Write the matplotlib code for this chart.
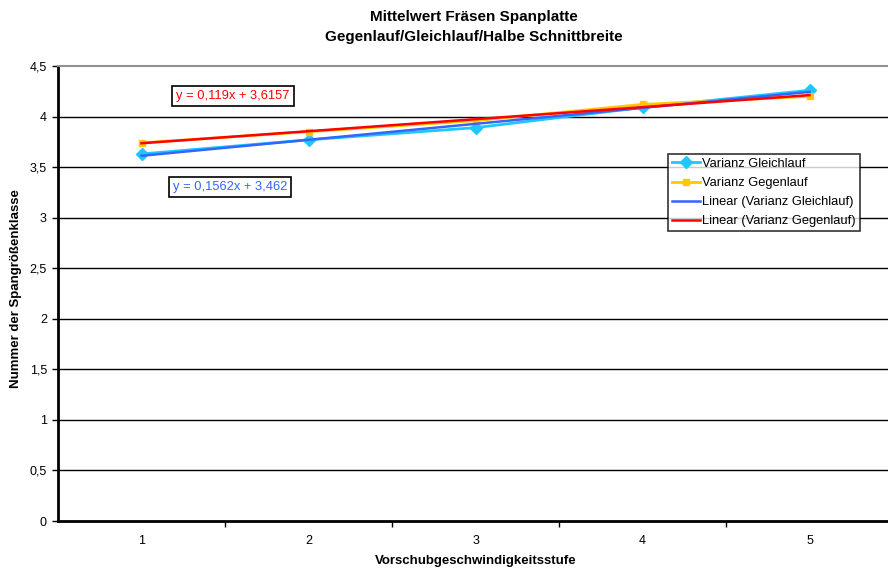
import numpy as np
import matplotlib
matplotlib.use("Agg")
import matplotlib.pyplot as plt

plt.rcParams['font.family'] = ['Liberation Sans', 'DejaVu Sans']

stufen = [1, 2, 3, 4, 5]
gleichlauf = [3.63, 3.77, 3.89, 4.09, 4.26]
gegenlauf = [3.74, 3.85, 3.96, 4.12, 4.20]
eq_gleich = "y = 0,1562x + 3,462"
eq_gegen = "y = 0,119x + 3,6157"
yticks = [0, 0.5, 1, 1.5, 2, 2.5, 3, 3.5, 4, 4.5]
ytick_labels = ["0", "0,5", "1", "1,5", "2", "2,5", "3", "3,5", "4", "4,5"]

W, H = 888, 571
fig = plt.figure(figsize=(W / 100, H / 100), dpi=100)
ax = fig.add_axes([58 / W, 50 / H, 835 / W, 455 / H])

for yv in yticks[1:-1]:
    ax.axhline(yv, color='black', lw=1.0, zorder=1)

c_gleich = '#1EC8FF'
c_gegen = '#FFC800'
c_lin_gleich = '#3366FF'
c_lin_gegen = '#FF0000'

ax.plot(stufen, gleichlauf, color=c_gleich, lw=2, marker='D', ms=6.5,
        label='Varianz Gleichlauf', zorder=3)
ax.plot(stufen, gegenlauf, color=c_gegen, lw=2, marker='s', ms=5,
        label='Varianz Gegenlauf', zorder=3)

x = np.array(stufen, dtype=float)
p1 = np.polyfit(x, gleichlauf, 1)
p2 = np.polyfit(x, gegenlauf, 1)
ax.plot(x, np.polyval(p1, x), color=c_lin_gleich, lw=1.8,
        label='Linear (Varianz Gleichlauf)', zorder=4)
ax.plot(x, np.polyval(p2, x), color=c_lin_gegen, lw=1.8,
        label='Linear (Varianz Gegenlauf)', zorder=4)

ax.set_xlim(0.5, 5.5)
ax.set_ylim(0, 4.5)
ax.set_yticks(yticks)
ax.set_yticklabels(ytick_labels, fontsize=9)
ax.set_xticks(stufen)
ax.set_xticklabels([str(s) for s in stufen], fontsize=9)
ax.tick_params(axis='x', which='major', length=0, pad=10)
ax.set_xticks([1.5, 2.5, 3.5, 4.5], minor=True)
ax.tick_params(axis='x', which='minor', length=4, width=1, direction='out')
ax.tick_params(axis='y', length=4, width=1, direction='out', pad=4)

ax.spines['left'].set_linewidth(2)
ax.spines['bottom'].set_linewidth(2)
ax.spines['top'].set_color('#909090')
ax.spines['top'].set_linewidth(1.5)
ax.spines['right'].set_visible(False)

fig.text(474 / W, 1 - 17 / H, 'Mittelwert Fräsen Spanplatte', ha='center', va='center',
         fontsize=11, fontweight='bold')
fig.text(474 / W, 1 - 37 / H, 'Gegenlauf/Gleichlauf/Halbe Schnittbreite', ha='center',
         va='center', fontsize=11, fontweight='bold')
fig.text(476 / W, 1 - 561 / H, 'Vorschubgeschwindigkeitsstufe', ha='center', va='center',
         fontsize=9.5, fontweight='bold')
fig.text(16 / W, 1 - 388 / H, 'Nummer der Spangrößenklasse', ha='center', va='bottom',
         rotation=90, fontsize=9.5, fontweight='bold')

box = dict(boxstyle='square,pad=0.3', facecolor='white', edgecolor='black', lw=1.2)
fig.text(233 / W, 1 - 96 / H, eq_gegen, ha='center', va='center', fontsize=9.3,
         color=c_lin_gegen, bbox=box)
fig.text(230 / W, 1 - 187 / H, eq_gleich, ha='center', va='center', fontsize=9.3,
         color=c_lin_gleich, bbox=box)

leg = ax.legend(loc='upper left', bbox_to_anchor=(668 / W, 1 - 154 / H),
                bbox_transform=fig.transFigure, fontsize=9.3, frameon=True, fancybox=False,
                borderaxespad=0, handlelength=2.2, handletextpad=0.15, labelspacing=0.55,
                borderpad=0.3)
leg.get_frame().set_edgecolor('black')
leg.get_frame().set_linewidth(1.2)

fig.savefig('out.png', dpi=100)
